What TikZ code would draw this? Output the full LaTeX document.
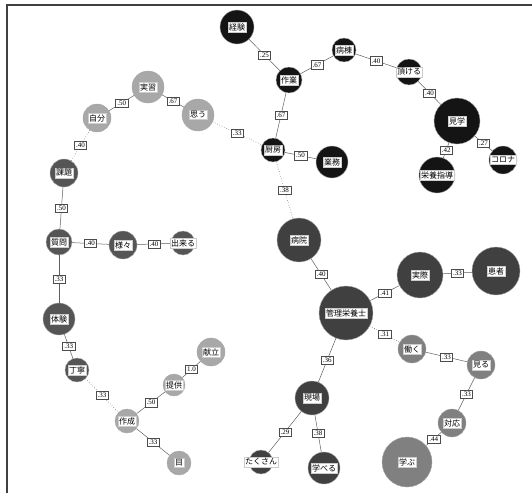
\documentclass[tikz,border=0pt]{standalone}
\usepackage{fontspec}
\newfontfamily\jp{Noto Sans CJK JP}
\newfontfamily\num{Liberation Serif}
\begin{document}
\begin{tikzpicture}[x=1pt,y=-1pt,
  nd/.style={circle,inner sep=0pt,draw=gray!70,line width=0.4pt},
  ca/.style={nd,fill=c1},
  cb/.style={nd,fill=c2},
  cc/.style={nd,fill=c3},
  cd/.style={nd,fill=c4},
  ce/.style={nd,fill=c5},
  txt/.style={fill=white,draw=gray!40,line width=0.3pt,inner sep=1.2pt,font=\jp\fontsize{8}{9}\selectfont,text=black},
  ed/.style={draw=gray!75!black,line width=0.5pt},
  dt/.style={ed,dotted,line width=0.6pt},
  el/.style={fill=white,draw=black!70,solid,line width=0.4pt,inner sep=1.8pt,font=\num\fontsize{7}{8}\selectfont,pos=0.5}
]
\definecolor{c1}{HTML}{141414}
\definecolor{c2}{HTML}{404040}
\definecolor{c3}{HTML}{555555}
\definecolor{c4}{HTML}{808080}
\definecolor{c5}{HTML}{A8A8A8}
\useasboundingbox (0,0) rectangle (532,493);
\draw[line width=2pt,draw=black!75] (6.5,493) -- (6.5,5) -- (532,5);

% community 1
\node[ca,minimum size=34pt] (keiken) at (237,27) {};
\node[ca,minimum size=26pt] (sagyo) at (289,80) {};
\node[ca,minimum size=24pt] (byoto) at (344,50) {};
\node[ca,minimum size=26pt] (itadakeru) at (409,72) {};
\node[ca,minimum size=46pt] (kengaku) at (457,121) {};
\node[ca,minimum size=36pt] (eiyoshido) at (437,175) {};
\node[ca,minimum size=28pt] (corona) at (503,160) {};
\node[ca,minimum size=24pt] (chubo) at (273,150) {};
\node[ca,minimum size=32pt] (gyomu) at (332,162) {};
% community 2
\node[cb,minimum size=44pt] (byoin) at (299,240) {};
\node[cb,minimum size=54pt] (kanri) at (346,313) {};
\node[cb,minimum size=46pt] (jissai) at (420,275) {};
\node[cb,minimum size=48pt] (kanja) at (496,271) {};
\node[cb,minimum size=34pt] (genba) at (312,398) {};
\node[cb,minimum size=32pt] (manaberu) at (324,468) {};
\node[cb,minimum size=24pt] (takusan) at (261,462) {};
% community 3
\node[cc,minimum size=28pt] (kadai) at (64,173) {};
\node[cc,minimum size=26pt] (shitsumon) at (59,242) {};
\node[cc,minimum size=28pt] (samazama) at (123,245) {};
\node[cc,minimum size=24pt] (dekiru) at (183,243) {};
\node[cc,minimum size=32pt] (taiken) at (59,319) {};
\node[cc,minimum size=24pt] (teinei) at (77,370) {};
% community 4
\node[cd,minimum size=28pt] (hataraku) at (412,349) {};
\node[cd,minimum size=28pt] (miru) at (481,365) {};
\node[cd,minimum size=28pt] (taio) at (452,423) {};
\node[cd,minimum size=50pt] (manabu) at (407,462) {};
% community 5
\node[ce,minimum size=32pt] (jisshu) at (148,87) {};
\node[ce,minimum size=28pt] (jibun) at (97,118) {};
\node[ce,minimum size=32pt] (omou) at (198,115) {};
\node[ce,minimum size=24pt] (sakusei) at (127,421) {};
\node[ce,minimum size=22pt] (teikyo) at (174,385) {};
\node[ce,minimum size=28pt] (kondate) at (211,352) {};
\node[ce,minimum size=24pt] (me) at (179,463) {};

% edges
\path[ed] (keiken) -- node[el]{.25} (sagyo);
\path[ed] (sagyo) -- node[el]{.67} (byoto);
\path[ed] (byoto) -- node[el]{.40} (itadakeru);
\path[ed] (itadakeru) -- node[el]{.40} (kengaku);
\path[ed] (kengaku) -- node[el]{.42} (eiyoshido);
\path[ed] (kengaku) -- node[el]{.27} (corona);
\path[ed] (sagyo) -- node[el]{.67} (chubo);
\path[ed] (chubo) -- node[el]{.50} (gyomu);
\path[dt] (chubo) -- node[el]{.38} (byoin);
\path[ed] (byoin) -- node[el]{.40} (kanri);
\path[ed] (kanri) -- node[el]{.41} (jissai);
\path[ed] (jissai) -- node[el]{.33} (kanja);
\path[dt] (kanri) -- node[el]{.31} (hataraku);
\path[ed] (kanri) -- node[el]{.36} (genba);
\path[ed] (hataraku) -- node[el]{.33} (miru);
\path[ed] (miru) -- node[el]{.33} (taio);
\path[ed] (taio) -- node[el]{.44} (manabu);
\path[ed] (genba) -- node[el]{.29} (takusan);
\path[ed] (genba) -- node[el]{.38} (manaberu);
\path[ed] (jisshu) -- node[el]{.50} (jibun);
\path[ed] (jisshu) -- node[el]{.67} (omou);
\path[dt] (omou) -- node[el]{.33} (chubo);
\path[dt] (jibun) -- node[el]{.40} (kadai);
\path[ed] (kadai) -- node[el]{.50} (shitsumon);
\path[ed] (shitsumon) -- node[el]{.40} (samazama);
\path[ed] (samazama) -- node[el]{.40} (dekiru);
\path[ed] (shitsumon) -- node[el]{.33} (taiken);
\path[ed] (taiken) -- node[el]{.33} (teinei);
\path[dt] (teinei) -- node[el]{.33} (sakusei);
\path[ed] (sakusei) -- node[el]{.50} (teikyo);
\path[ed] (teikyo) -- node[el]{1.0} (kondate);
\path[ed] (sakusei) -- node[el]{.33} (me);

% labels
\node[txt] (t1) at (keiken) {経験};
\node[txt] (t2) at (sagyo) {作業};
\node[txt] (t3) at (byoto) {病棟};
\node[txt] (t4) at (itadakeru) {頂ける};
\node[txt] (t5) at (kengaku) {見学};
\node[txt] (t6) at (eiyoshido) {栄養指導};
\node[txt] (t7) at (corona) {コロナ};
\node[txt] (t8) at (chubo) {厨房};
\node[txt] (t9) at (gyomu) {業務};
\node[txt] (t10) at (byoin) {病院};
\node[txt] (t11) at (kanri) {管理栄養士};
\node[txt] (t12) at (jissai) {実際};
\node[txt] (t13) at (kanja) {患者};
\node[txt] (t14) at (genba) {現場};
\node[txt] (t15) at (manaberu) {学べる};
\node[txt] (t16) at (takusan) {たくさん};
\node[txt] (t17) at (kadai) {課題};
\node[txt] (t18) at (shitsumon) {質問};
\node[txt] (t19) at (samazama) {様々};
\node[txt] (t20) at (dekiru) {出来る};
\node[txt] (t21) at (taiken) {体験};
\node[txt] (t22) at (teinei) {丁寧};
\node[txt] (t23) at (hataraku) {働く};
\node[txt] (t24) at (miru) {見る};
\node[txt] (t25) at (taio) {対応};
\node[txt] (t26) at (manabu) {学ぶ};
\node[txt] (t27) at (jisshu) {実習};
\node[txt] (t28) at (jibun) {自分};
\node[txt] (t29) at (omou) {思う};
\node[txt] (t30) at (sakusei) {作成};
\node[txt] (t31) at (teikyo) {提供};
\node[txt] (t32) at (kondate) {献立};
\node[txt] (t33) at (me) {目};
\end{tikzpicture}
\end{document}
